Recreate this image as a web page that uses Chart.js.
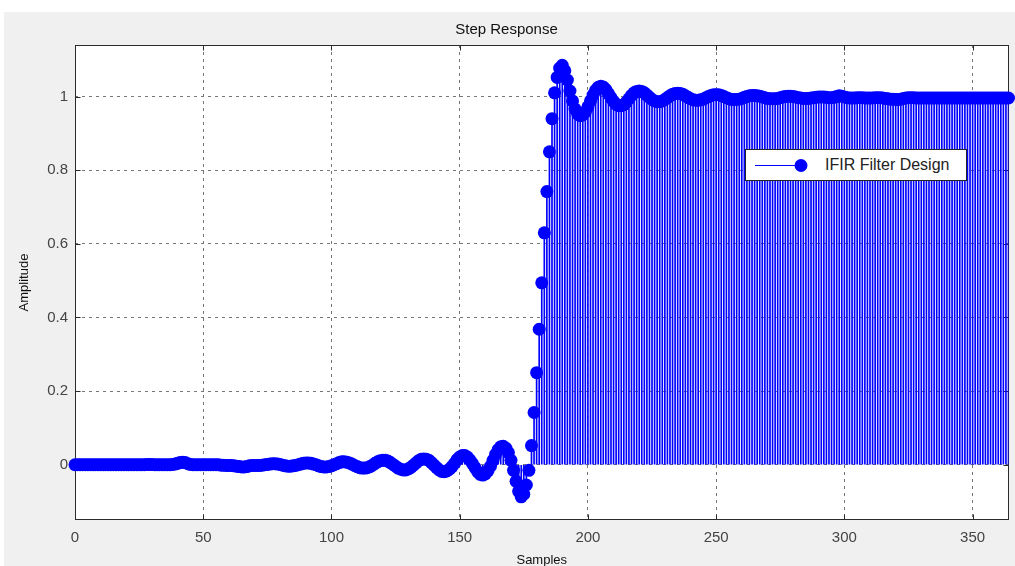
<!DOCTYPE html>
<html>
<head>
<meta charset="utf-8">
<title>Step Response</title>
<script src="https://cdn.jsdelivr.net/npm/chart.js@4.4.1/dist/chart.umd.min.js"></script>
<style>
  html, body { margin: 0; padding: 0; background: #fff; overflow: hidden; }
  body { width: 1015px; height: 566px; position: relative; font-family: "Liberation Sans", Arial, sans-serif; }
  #fig { position: absolute; left: 4px; top: 12px; width: 1011px; height: 560px; background: #f0f0f0; }
  #legend {
    position: absolute; left: 745px; top: 149px; width: 222px; height: 32px;
    box-sizing: border-box; border: 1px solid #262626; background: #fff;
  }
  #legend svg { position: absolute; left: 0; top: 0; }
  #legend span {
    position: absolute; left: 79px; top: 0; line-height: 30px;
    font-size: 16px; color: #222; white-space: nowrap;
  }
</style>
</head>
<body>
<div id="fig"><canvas id="chart"></canvas></div>
<div id="legend">
  <svg width="70" height="30">
    <line x1="9" y1="15.5" x2="55" y2="15.5" stroke="#0000ff" stroke-width="1"></line>
    <circle cx="55" cy="15.5" r="6.5" fill="#0000ff"></circle>
  </svg>
  <span id="legendText"></span>
</div>
<script>
const title = "Step Response";
const xLabel = "Samples";
const yLabel = "Amplitude";
const seriesName = "IFIR Filter Design";
const xTicks = [0, 50, 100, 150, 200, 250, 300, 350];
const yTicks = [0, 0.2, 0.4, 0.6, 0.8, 1];
const xRange = [0, 364];
const yRange = [-0.15, 1.14];

// step response, amplitude[n] is sample n (0 .. 364)
const amplitude = [
  0, 0, 0, 0, 0, 0, 0, 0, 0, 0,
  0, 0, 0, 0, 0, 0, 0, 0, 0, 0,
  0, 0, 0, 0, 0, 0, 0, 0, 0.001, 0.001,
  0.001, 0, 0, 0, 0, 0, 0, 0, 0.001, 0.002,
  0.004, 0.006, 0.007, 0.006, 0.003, 0.001, 0, 0, 0, 0,
  0, 0, 0, 0, 0, 0, 0, -0.001, -0.001, -0.002,
  -0.002, -0.002, -0.003, -0.004, -0.005, -0.006, -0.006, -0.005, -0.003, -0.002,
  -0.002, -0.002, -0.002, -0.001, 0, 0.001, 0.002, 0.003, 0.003, 0.002,
  0.001, -0.001, -0.003, -0.004, -0.004, -0.003, -0.002, 0, 0.002, 0.004,
  0.005, 0.005, 0.004, 0.002, 0, -0.003, -0.005, -0.006, -0.006, -0.005,
  -0.003, 0, 0.003, 0.006, 0.008, 0.008, 0.007, 0.005, 0.002, -0.002,
  -0.005, -0.008, -0.009, -0.009, -0.008, -0.005, -0.001, 0.004, 0.008, 0.011,
  0.012, 0.012, 0.010, 0.006, 0.001, -0.004, -0.009, -0.012, -0.014, -0.014,
  -0.011, -0.007, -0.001, 0.005, 0.011, 0.015, 0.016, 0.015, 0.012, 0.006,
  -0.001, -0.008, -0.014, -0.018, -0.019, -0.017, -0.012, -0.005, 0.004, 0.014,
  0.021, 0.025, 0.025, 0.021, 0.013, 0.003, -0.008, -0.019, -0.026, -0.028,
  -0.025, -0.017, -0.004, 0.012, 0.028, 0.041, 0.049, 0.050, 0.045, 0.033,
  0.012, -0.015, -0.045, -0.072, -0.087, -0.080, -0.055, -0.015, 0.052, 0.142,
  0.250, 0.368, 0.494, 0.630, 0.742, 0.850, 0.940, 1.010, 1.052, 1.077,
  1.085, 1.070, 1.045, 1.015, 0.988, 0.966, 0.953, 0.948, 0.950, 0.958,
  0.972, 0.988, 1.004, 1.017, 1.025, 1.028, 1.026, 1.019, 1.008, 0.997,
  0.987, 0.979, 0.975, 0.975, 0.978, 0.985, 0.994, 1.003, 1.010, 1.014,
  1.015, 1.014, 1.010, 1.004, 0.998, 0.992, 0.988, 0.986, 0.986, 0.988,
  0.992, 0.997, 1.002, 1.006, 1.008, 1.009, 1.008, 1.006, 1.002, 0.998,
  0.994, 0.991, 0.990, 0.990, 0.991, 0.993, 0.997, 1.000, 1.003, 1.005,
  1.005, 1.005, 1.003, 1.000, 0.997, 0.994, 0.992, 0.992, 0.992, 0.993,
  0.995, 0.998, 1.000, 1.002, 1.003, 1.003, 1.002, 1.001, 0.999, 0.997,
  0.995, 0.994, 0.994, 0.994, 0.995, 0.997, 0.999, 1.000, 1.001, 1.001,
  1.000, 0.999, 0.997, 0.996, 0.995, 0.995, 0.995, 0.996, 0.997, 0.998,
  0.999, 0.999, 0.999, 0.998, 0.997, 0.997, 0.998, 1.000, 1.002, 1.001,
  0.999, 0.997, 0.996, 0.996, 0.996, 0.997, 0.997, 0.997, 0.996, 0.996,
  0.996, 0.996, 0.997, 0.997, 0.997, 0.996, 0.995, 0.994, 0.993, 0.993,
  0.992, 0.992, 0.993, 0.995, 0.996, 0.997, 0.997, 0.997, 0.996, 0.996,
  0.996, 0.996, 0.996, 0.996, 0.996, 0.996, 0.996, 0.996, 0.996, 0.996,
  0.996, 0.996, 0.996, 0.996, 0.996, 0.996, 0.996, 0.996, 0.996, 0.996,
  0.996, 0.996, 0.996, 0.996, 0.996, 0.996, 0.996, 0.996, 0.996, 0.996,
  0.996, 0.996, 0.996, 0.996, 0.996
];

const points = amplitude.map((y, n) => ({ x: n, y }));
const blue = "#0000ff";
const fontFamily = '"Liberation Sans", Arial, sans-serif';

document.getElementById("legendText").textContent = seriesName;

// white axes area, solid box and inward ticks like matlab
const framePlugin = {
  id: "frame",
  beforeDraw(c) {
    const a = c.chartArea;
    c.ctx.save();
    c.ctx.fillStyle = "#fff";
    c.ctx.fillRect(a.left, a.top, a.width, a.height);
    c.ctx.restore();
  },
  beforeDatasetsDraw(c) {
    const { ctx, chartArea: a, scales } = c;
    ctx.save();
    ctx.setLineDash([]);
    ctx.strokeStyle = "#2b2b2b";
    ctx.lineWidth = 1;
    const l = Math.round(a.left) + 0.5, r = Math.round(a.right) - 0.5;
    const t = Math.round(a.top) + 0.5, b = Math.round(a.bottom) - 0.5;
    ctx.strokeRect(l, t, r - l, b - t);
    ctx.beginPath();
    xTicks.forEach(v => {
      const px = Math.round(scales.x.getPixelForValue(v)) + 0.5;
      ctx.moveTo(px, b); ctx.lineTo(px, b - 5);
      ctx.moveTo(px, t); ctx.lineTo(px, t + 5);
    });
    yTicks.forEach(v => {
      const py = Math.round(scales.y.getPixelForValue(v)) + 0.5;
      ctx.moveTo(l, py); ctx.lineTo(l + 5, py);
      ctx.moveTo(r, py); ctx.lineTo(r - 5, py);
    });
    ctx.stroke();
    ctx.restore();
  }
};

const gridStyle = { color: "#777", lineWidth: 1, drawTicks: false, borderDash: [3, 4] };

new Chart(document.getElementById("chart"), {
  type: "bar",
  data: {
    datasets: [
      {
        type: "line",
        label: seriesName,
        data: points,
        showLine: false,
        pointRadius: 6.5,
        pointHoverRadius: 6.5,
        pointBorderWidth: 0,
        pointBackgroundColor: blue,
        borderColor: blue,
        clip: false
      },
      {
        type: "bar",
        label: "stems",
        data: points,
        backgroundColor: blue,
        barThickness: 1,
        borderWidth: 0
      }
    ]
  },
  options: {
    responsive: true,
    maintainAspectRatio: false,
    animation: false,
    events: [],
    layout: { padding: { right: 6 } },
    plugins: {
      legend: { display: false },
      tooltip: { enabled: false },
      title: {
        display: true,
        text: title,
        color: "#111",
        font: { family: fontFamily, size: 15, weight: "normal" },
        padding: { top: 9, bottom: 6 }
      }
    },
    scales: {
      x: {
        type: "linear",
        min: xRange[0],
        max: xRange[1],
        offset: false,
        grid: { ...gridStyle, offset: false },
        border: { display: false, dash: [3, 4] },
        afterBuildTicks: s => { s.ticks = xTicks.map(v => ({ value: v })); },
        afterFit: s => { s.height = 52; },
        ticks: {
          color: "#444",
          padding: 9,
          maxRotation: 0,
          font: { family: fontFamily, size: 15 },
          callback: v => String(v)
        },
        title: {
          display: true,
          text: xLabel,
          color: "#111",
          font: { family: fontFamily, size: 13 },
          padding: { top: 0, bottom: 4 }
        }
      },
      y: {
        type: "linear",
        min: yRange[0],
        max: yRange[1],
        grid: gridStyle,
        border: { display: false, dash: [3, 4] },
        afterBuildTicks: s => { s.ticks = yTicks.map(v => ({ value: v })); },
        afterFit: s => { s.width = 71; },
        ticks: {
          color: "#444",
          padding: 7,
          font: { family: fontFamily, size: 15 },
          callback: v => String(v)
        },
        title: {
          display: true,
          text: yLabel,
          color: "#111",
          font: { family: fontFamily, size: 13 },
          padding: { top: 13, bottom: 0 }
        }
      }
    }
  },
  plugins: [framePlugin]
});
</script>
</body>
</html>
